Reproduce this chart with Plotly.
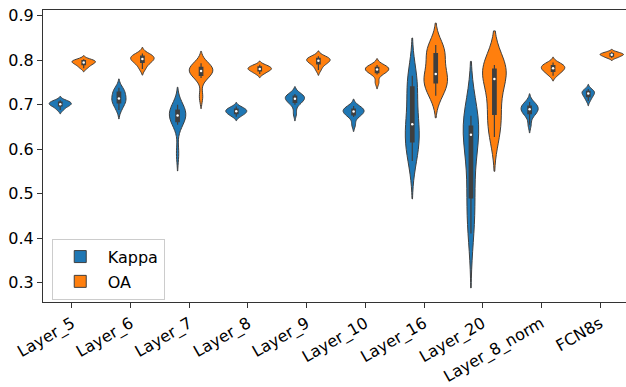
import numpy as np
import plotly.graph_objects as go

categories = ["Layer_5", "Layer_6", "Layer_7", "Layer_8", "Layer_9",
              "Layer_10", "Layer_16", "Layer_20", "Layer_8_norm", "FCN8s"]
hues = ["Kappa", "OA"]

kappa_samples = [
    [0.688, 0.693, 0.697, 0.699, 0.700, 0.702, 0.704, 0.706, 0.707, 0.710],  # Layer_5
    [0.688, 0.698, 0.704, 0.708, 0.712, 0.716, 0.722, 0.728, 0.732, 0.738],  # Layer_6
    [0.590, 0.655, 0.662, 0.668, 0.673, 0.678, 0.683, 0.688, 0.693, 0.700],  # Layer_7
    [0.673, 0.677, 0.680, 0.682, 0.684, 0.686, 0.688, 0.690, 0.692, 0.696],  # Layer_8
    [0.680, 0.700, 0.705, 0.709, 0.712, 0.715, 0.717, 0.719, 0.721, 0.724],  # Layer_9
    [0.655, 0.672, 0.677, 0.680, 0.683, 0.686, 0.688, 0.690, 0.693, 0.697],  # Layer_10
    [0.573, 0.600, 0.616, 0.630, 0.650, 0.662, 0.700, 0.740, 0.752, 0.765],  # Layer_16
    [0.410, 0.455, 0.490, 0.545, 0.625, 0.640, 0.645, 0.652, 0.662, 0.675],  # Layer_20
    [0.655, 0.675, 0.680, 0.684, 0.688, 0.691, 0.694, 0.697, 0.700, 0.706],  # Layer_8_norm
    [0.708, 0.714, 0.718, 0.721, 0.724, 0.726, 0.728, 0.730, 0.732, 0.735],  # FCN8s
]
oa_samples = [
    [0.782, 0.786, 0.790, 0.792, 0.794, 0.796, 0.797, 0.799, 0.800, 0.802],  # Layer_5
    [0.780, 0.789, 0.795, 0.798, 0.801, 0.804, 0.806, 0.809, 0.811, 0.815],  # Layer_6
    [0.718, 0.760, 0.766, 0.770, 0.774, 0.778, 0.781, 0.784, 0.788, 0.793],  # Layer_7
    [0.769, 0.773, 0.776, 0.778, 0.780, 0.781, 0.783, 0.785, 0.787, 0.790],  # Layer_8
    [0.778, 0.787, 0.792, 0.795, 0.798, 0.800, 0.802, 0.804, 0.806, 0.809],  # Layer_9
    [0.750, 0.768, 0.772, 0.775, 0.778, 0.780, 0.782, 0.784, 0.786, 0.789],  # Layer_10
    [0.720, 0.735, 0.749, 0.755, 0.765, 0.773, 0.800, 0.815, 0.824, 0.834],  # Layer_16
    [0.627, 0.650, 0.678, 0.700, 0.745, 0.770, 0.775, 0.780, 0.785, 0.789],  # Layer_20
    [0.765, 0.771, 0.775, 0.778, 0.781, 0.783, 0.786, 0.788, 0.791, 0.795],  # Layer_8_norm
    [0.805, 0.807, 0.809, 0.811, 0.812, 0.813, 0.814, 0.815, 0.817, 0.819],  # FCN8s
]

colors = {"Kappa": "#1f77b4", "OA": "#ff7f0e"}
edge = "#3f3f3f"
PX_PER_UNIT = 58.67
DODGE = 0.2
FULL_W = 0.4


def scott_bw(v):
    v = np.asarray(v, float)
    return v.std(ddof=1) * len(v) ** (-0.2)


def kde_peak(v, bw):
    v = np.asarray(v, float)
    grid = np.linspace(v.min() - 2 * bw, v.max() + 2 * bw, 600)
    d = np.exp(-0.5 * ((grid[:, None] - v[None, :]) / bw) ** 2).sum(1)
    return d.max() / (len(v) * bw * np.sqrt(2 * np.pi))


fig = go.Figure()
med_x, med_y = [], []
for i, cat in enumerate(categories):
    groups = {"Kappa": kappa_samples[i], "OA": oa_samples[i]}
    bws = {h: scott_bw(groups[h]) for h in hues}
    peaks = {h: kde_peak(groups[h], bws[h]) for h in hues}
    pmax = max(peaks.values())
    for j, h in enumerate(hues):
        vals = groups[h]
        pos = i + (-DODGE if j == 0 else DODGE)
        w = FULL_W * peaks[h] / pmax
        box_frac = min(0.9, 3.5 / (w * PX_PER_UNIT))
        fig.add_trace(go.Violin(
            x=[pos] * len(vals), y=vals, orientation="v",
            name=h, legendgroup=h, showlegend=(i == 0),
            width=w, bandwidth=bws[h], spanmode="soft",
            scalemode="width", scalegroup=f"{h}_{i}",
            fillcolor=colors[h], opacity=1,
            line=dict(color=edge, width=1),
            points=False,
            box=dict(visible=True, width=box_frac, fillcolor=edge,
                     line=dict(color=edge, width=1.2)),
            meanline=dict(visible=False),
            hoverinfo="skip",
        ))
        med_x.append(pos)
        med_y.append(float(np.median(vals)))

fig.add_trace(go.Scatter(x=med_x, y=med_y, mode="markers",
                         marker=dict(color="white", size=2.5),
                         showlegend=False, hoverinfo="skip"))

axis_font = dict(family="DejaVu Sans", size=16, color="black")
fig.update_layout(
    width=626, height=387,
    margin=dict(l=43, r=0, t=10, b=80),
    paper_bgcolor="white", plot_bgcolor="white",
    font=dict(family="DejaVu Sans", size=16, color="black"),
    violinmode="overlay",
    xaxis=dict(range=[-0.494, 9.443], tickmode="array",
               tickvals=list(range(len(categories))), ticktext=categories,
               tickangle=-30, showline=True, linecolor="#333333", linewidth=1.2,
               mirror=True, ticks="outside", ticklen=5, tickcolor="#333333",
               showgrid=False, zeroline=False, tickfont=axis_font),
    yaxis=dict(range=[0.256, 0.913], dtick=0.1, tick0=0.3, tickformat=".1f",
               showline=True, linecolor="#333333", linewidth=1.2,
               ticks="outside", ticklen=5, tickcolor="#333333",
               showgrid=False, zeroline=False, tickfont=axis_font),
    legend=dict(x=0.015, y=0.008, xanchor="left", yanchor="bottom",
                bgcolor="rgba(255,255,255,0.8)", bordercolor="#cccccc",
                borderwidth=1, font=dict(family="DejaVu Sans", size=16),
                tracegroupgap=1, itemwidth=45),
)

fig.write_html("out.html")
